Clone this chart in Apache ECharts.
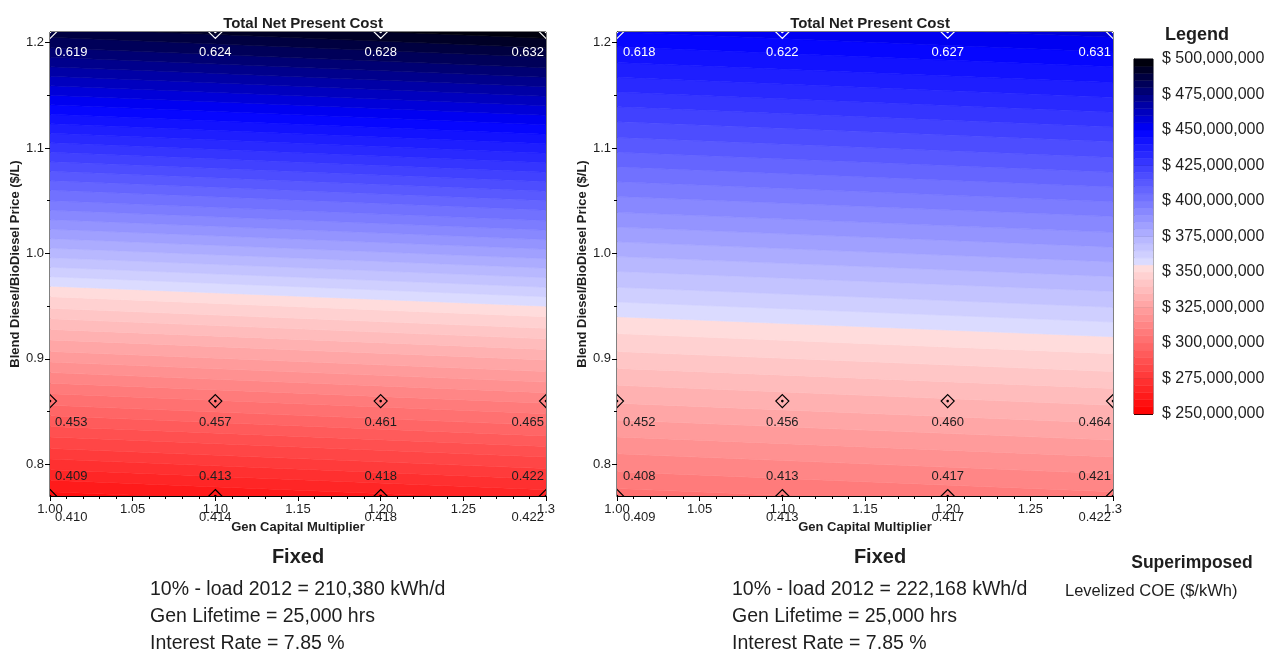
<!DOCTYPE html>
<html>
<head>
<meta charset="utf-8" />
<title>Total Net Present Cost</title>
<script src="https://cdn.jsdelivr.net/npm/echarts@6/dist/echarts.min.js"></script>
<style>
  html, body { margin: 0; padding: 0; background: #fff; }
  #main { width: 1272px; height: 655px; }
</style>
</head>
<body>
<div id="main"></div>
<script>
// sensitivity points (Gen Capital Multiplier x Blend price)
var gcmValues = [1.00, 1.10, 1.20, 1.30];
var priceRows = [0.77, 0.86, 1.21];

// Levelized COE labels ($/kWh), left case: 210,380 kWh/d
var coeTopA = [0.619, 0.624, 0.628, 0.632];
var coeMidA = [0.453, 0.457, 0.461, 0.465];
var coeLowA = [0.409, 0.413, 0.418, 0.422];
var coeBaseA = [0.410, 0.414, 0.418, 0.422];
// right case: 222,168 kWh/d
var coeTopB = [0.618, 0.622, 0.627, 0.631];
var coeMidB = [0.452, 0.456, 0.460, 0.464];
var coeLowB = [0.408, 0.413, 0.417, 0.421];
var coeBaseB = [0.409, 0.413, 0.417, 0.422];

// NPC contour lines ($M): blend price where the line meets multiplier 1.00 and 1.30
var levelsA = [255, 260, 265, 270, 275, 280, 285, 290, 295, 300, 305, 310, 315, 320, 325, 330, 335, 340, 345, 350,
  355, 360, 365, 370, 375, 380, 385, 390, 395, 400, 405, 410, 415, 420, 425, 430, 435, 440, 445, 450,
  455, 460, 465, 470, 475, 480, 485, 490, 495, 500];
var at100A = [0.764, 0.774, 0.785, 0.795, 0.805, 0.815, 0.826, 0.836, 0.846, 0.856, 0.867, 0.877, 0.887, 0.897, 0.907, 0.918, 0.928, 0.938, 0.948, 0.959,
  0.969, 0.978, 0.987, 0.996, 1.005, 1.014, 1.023, 1.032, 1.041, 1.050, 1.060, 1.069, 1.078, 1.087, 1.096, 1.105, 1.114, 1.123, 1.132, 1.141,
  1.150, 1.159, 1.168, 1.177, 1.186, 1.195, 1.205, 1.214, 1.223, 1.232];
var at130A = [0.745, 0.755, 0.766, 0.776, 0.786, 0.796, 0.807, 0.817, 0.827, 0.837, 0.848, 0.858, 0.868, 0.878, 0.888, 0.899, 0.909, 0.919, 0.929, 0.940,
  0.950, 0.959, 0.968, 0.977, 0.986, 0.995, 1.004, 1.013, 1.022, 1.031, 1.041, 1.050, 1.059, 1.068, 1.077, 1.086, 1.095, 1.104, 1.113, 1.122,
  1.131, 1.140, 1.149, 1.158, 1.167, 1.176, 1.186, 1.195, 1.204, 1.213];

var levelsB = [295, 300, 305, 310, 315, 320, 325, 330, 335, 340, 345, 350, 355,
  360, 365, 370, 375, 380, 385, 390, 395, 400, 405, 410, 415, 420, 425, 430, 435, 440, 445, 450, 455, 460, 465, 470];
var at100B = [0.744, 0.761, 0.777, 0.793, 0.810, 0.826, 0.842, 0.858, 0.875, 0.891, 0.907, 0.924, 0.940,
  0.954, 0.968, 0.983, 0.997, 1.011, 1.025, 1.039, 1.054, 1.068, 1.082, 1.096, 1.110, 1.125, 1.139, 1.153, 1.167, 1.181, 1.196, 1.210, 1.224, 1.238, 1.252, 1.267];
var at130B = [0.725, 0.742, 0.758, 0.774, 0.791, 0.807, 0.823, 0.839, 0.856, 0.872, 0.888, 0.905, 0.921,
  0.935, 0.949, 0.964, 0.978, 0.992, 1.006, 1.020, 1.035, 1.049, 1.063, 1.077, 1.091, 1.106, 1.120, 1.134, 1.148, 1.162, 1.177, 1.191, 1.205, 1.219, 1.233, 1.248];

// legend scale ($M)
var legendMin = 250, legendMax = 500, legendStep = 5, legendTick = 25;
var yLabelValues = [0.8, 0.9, 1.0, 1.1, 1.2];
var yMinorValues = [0.85, 0.95, 1.05, 1.15];

var FONT = '"Liberation Sans", Arial, sans-serif';
var TXT = '#1e1e1e';

function npcColor(v) {
  var t, c;
  if (v < 355) {
    t = (v - 250) / 105; c = Math.round(225 * t);
    return 'rgb(255,' + c + ',' + c + ')';
  }
  if (v < 450) {
    t = (450 - v) / 95; c = Math.round(225 * t);
    return 'rgb(' + c + ',' + c + ',255)';
  }
  t = Math.min(1, (v - 450) / 50); c = Math.round(255 * (1 - t));
  return 'rgb(0,0,' + c + ')';
}

function bandData(levels, a, b) {
  var out = [];
  for (var i = 0; i < levels.length - 1; i++) {
    out.push([levels[i], a[i], b[i], a[i + 1], b[i + 1], levels[i + 1]]);
  }
  return out;
}

function bandSeries(gi, levels, a, b) {
  var x0 = gcmValues[0], x1 = gcmValues[gcmValues.length - 1];
  return {
    type: 'custom', xAxisIndex: gi, yAxisIndex: gi * 2, clip: true, silent: true, z: 1,
    data: bandData(levels, a, b),
    renderItem: function (params, api) {
      var pts = [api.coord([x0, api.value(1)]), api.coord([x1, api.value(2)]),
        api.coord([x1, api.value(4)]), api.coord([x0, api.value(3)])];
      var col = npcColor((api.value(0) + api.value(5)) / 2);
      return { type: 'polygon', shape: { points: pts }, style: { fill: col, stroke: col, lineWidth: 0.6 } };
    }
  };
}

function markerSeries(gi) {
  var data = [];
  priceRows.forEach(function (y) {
    gcmValues.forEach(function (x) { data.push([x, y]); });
  });
  var top = priceRows[priceRows.length - 1];
  return {
    type: 'custom', xAxisIndex: gi, yAxisIndex: gi * 2, clip: true, silent: true, z: 3,
    data: data,
    renderItem: function (params, api) {
      var p = api.coord([api.value(0), api.value(1)]);
      var col = api.value(1) === top ? '#ffffff' : '#000000';
      var r = 6.5;
      return {
        type: 'group', children: [
          { type: 'polygon', shape: { points: [[p[0], p[1] - r], [p[0] + r, p[1]], [p[0], p[1] + r], [p[0] - r, p[1]]] },
            style: { fill: 'none', stroke: col, lineWidth: 1.2 } },
          { type: 'circle', shape: { cx: p[0], cy: p[1], r: 1.3 }, style: { fill: col } }
        ]
      };
    }
  };
}

function labelSeries(gi, yv, texts, dy, color, dxFirst) {
  var n = gcmValues.length;
  return {
    type: 'custom', xAxisIndex: gi, yAxisIndex: gi * 2, clip: false, silent: true, z: 4,
    data: gcmValues.map(function (x) { return [x, yv]; }),
    renderItem: function (params, api) {
      var i = params.dataIndex;
      var p = api.coord([api.value(0), api.value(1)]);
      var align = i === 0 ? 'left' : (i === n - 1 ? 'right' : 'center');
      var dx = i === 0 ? dxFirst : (i === n - 1 ? -2 : 0);
      return {
        type: 'text', x: p[0] + dx, y: p[1] + dy,
        style: { text: texts[i].toFixed(3), fill: color, font: '13px ' + FONT,
          align: align, textAlign: align, verticalAlign: 'middle', textVerticalAlign: 'middle' }
      };
    }
  };
}

function xAxisFor(gi) {
  return {
    type: 'value', gridIndex: gi, min: 1.0, max: 1.3, interval: 0.05,
    name: 'Gen Capital Multiplier', nameLocation: 'middle', nameGap: 23,
    nameTextStyle: { fontFamily: FONT, fontSize: 13, fontWeight: 'bold', color: TXT },
    axisLine: { show: true, lineStyle: { color: '#000' } },
    axisTick: { show: true, length: 5, lineStyle: { color: '#000' } },
    minorTick: { show: true, splitNumber: 5, length: 3, lineStyle: { color: '#000' } },
    splitLine: { show: false },
    axisLabel: { fontFamily: FONT, fontSize: 13, color: TXT, margin: 7,
      formatter: function (v) { return Math.abs(v - 1.3) < 1e-6 ? '1.3' : v.toFixed(2); } }
  };
}

function yAxesFor(gi) {
  return [{
    type: 'value', gridIndex: gi, min: 0.77, max: 1.21,
    name: 'Blend Diesel/BioDiesel Price ($/L)', nameLocation: 'middle', nameGap: 28,
    nameTextStyle: { fontFamily: FONT, fontSize: 13, fontWeight: 'bold', color: TXT },
    axisLine: { show: true, lineStyle: { color: '#000' } },
    axisTick: { show: true, length: 5, customValues: yLabelValues, lineStyle: { color: '#000' } },
    splitLine: { show: false },
    axisLabel: { fontFamily: FONT, fontSize: 13, color: TXT, margin: 6, customValues: yLabelValues,
      formatter: function (v) { return v.toFixed(1); } }
  }, {
    type: 'value', gridIndex: gi, min: 0.77, max: 1.21, position: 'left',
    axisLine: { show: false },
    axisTick: { show: true, length: 3, customValues: yMinorValues, lineStyle: { color: '#000' } },
    axisLabel: { show: false }, splitLine: { show: false }
  }];
}

function fmtMoney(v) {
  var s = String(Math.round(v * 1e6));
  return '$ ' + s.replace(/\B(?=(\d{3})+(?!\d))/g, ',');
}

var legendBands = [];
for (var v = legendMin; v < legendMax; v += legendStep) legendBands.push([v, v + legendStep]);

var chart = echarts.init(document.getElementById('main'), null, { renderer: 'canvas' });

var yA = yAxesFor(0), yB = yAxesFor(1);

function txt(x, y, s, font, align) {
  return { type: 'text', x: x, y: y, style: { text: s, font: font + ' ' + FONT, fill: TXT,
    align: align || 'left', textAlign: align || 'left', verticalAlign: 'middle', textVerticalAlign: 'middle' } };
}

chart.setOption({
  animation: false,
  backgroundColor: '#ffffff',
  title: [
    { text: 'Total Net Present Cost', left: 298, top: 11, textAlign: 'center',
      textStyle: { fontFamily: FONT, fontSize: 15, fontWeight: 'bold', color: TXT } },
    { text: 'Total Net Present Cost', left: 865, top: 11, textAlign: 'center',
      textStyle: { fontFamily: FONT, fontSize: 15, fontWeight: 'bold', color: TXT } }
  ],
  grid: [
    { left: 50, top: 32, width: 496, height: 464, show: true, borderColor: '#000', borderWidth: 1, backgroundColor: 'transparent' },
    { left: 617, top: 32, width: 496, height: 464, show: true, borderColor: '#000', borderWidth: 1, backgroundColor: 'transparent' },
    { left: 1134, top: 59, width: 19, height: 355, show: true, borderColor: '#444', borderWidth: 1, backgroundColor: 'transparent' }
  ],
  xAxis: [xAxisFor(0), xAxisFor(1),
    { type: 'value', gridIndex: 2, min: 0, max: 1, show: false }],
  yAxis: [yA[0], yA[1], yB[0], yB[1],
    { type: 'value', gridIndex: 2, min: legendMin, max: legendMax, interval: legendTick, position: 'right',
      axisLine: { show: true, lineStyle: { color: '#000' } },
      axisTick: { show: true, length: 5, lineStyle: { color: '#000' } },
      splitLine: { show: true, lineStyle: { color: '#000', width: 1 } },
      axisLabel: { fontFamily: FONT, fontSize: 16, color: TXT, margin: 9, formatter: fmtMoney } }],
  series: [
    bandSeries(0, levelsA, at100A, at130A),
    markerSeries(0),
    labelSeries(0, priceRows[2], coeTopA, 20, '#ffffff', 5),
    labelSeries(0, priceRows[1], coeMidA, 21, TXT, 5),
    labelSeries(0, priceRows[0], coeLowA, -20, TXT, 5),
    labelSeries(0, priceRows[0], coeBaseA, 21, TXT, 5),
    bandSeries(1, levelsB, at100B, at130B),
    markerSeries(1),
    labelSeries(1, priceRows[2], coeTopB, 20, '#ffffff', 6),
    labelSeries(1, priceRows[1], coeMidB, 21, TXT, 6),
    labelSeries(1, priceRows[0], coeLowB, -20, TXT, 6),
    labelSeries(1, priceRows[0], coeBaseB, 21, TXT, 6),
    {
      type: 'custom', xAxisIndex: 2, yAxisIndex: 4, silent: true, z: 1,
      data: legendBands,
      renderItem: function (params, api) {
        var p0 = api.coord([0, api.value(1)]);
        var p1 = api.coord([1, api.value(0)]);
        var col = npcColor((api.value(0) + api.value(1)) / 2);
        return { type: 'rect', shape: { x: p0[0], y: p0[1], width: p1[0] - p0[0], height: p1[1] - p0[1] },
          style: { fill: col, stroke: col, lineWidth: 0.5 } };
      }
    }
  ],
  graphic: [
    txt(1197, 35, 'Legend', 'bold 18px', 'center'),
    txt(298, 557, 'Fixed', 'bold 20px', 'center'),
    txt(150, 590, '10% - load 2012 = 210,380 kWh/d', '19.5px'),
    txt(150, 617, 'Gen Lifetime = 25,000 hrs', '19.5px'),
    txt(150, 644, 'Interest Rate = 7.85 %', '19.5px'),
    txt(880, 557, 'Fixed', 'bold 20px', 'center'),
    txt(732, 590, '10% - load 2012 = 222,168 kWh/d', '19.5px'),
    txt(732, 617, 'Gen Lifetime = 25,000 hrs', '19.5px'),
    txt(732, 644, 'Interest Rate = 7.85 %', '19.5px'),
    txt(1192, 563, 'Superimposed', 'bold 17.5px', 'center'),
    txt(1065, 591, 'Levelized COE ($/kWh)', '16.5px')
  ]
});

window.onresize = function () { chart.resize(); };
</script>
</body>
</html>
